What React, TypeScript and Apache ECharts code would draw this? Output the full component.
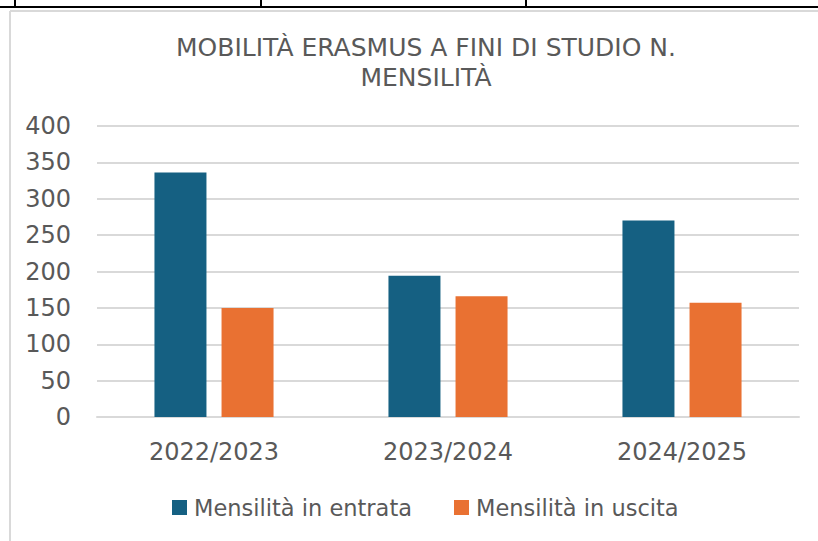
import React, { useEffect, useRef } from "react";
import * as echarts from "echarts";

const categories = ["2022/2023", "2023/2024", "2024/2025"];
const seriesNames = ["Mensilità in entrata", "Mensilità in uscita"];
const entrata = [336, 194, 270];
const uscita = [150, 166, 157];
const titleText = "MOBILITÀ ERASMUS A FINI DI STUDIO N.\nMENSILITÀ";

const TEXT = "#595959";
const GRID = "#d9d9d9";
const FONT = "DejaVu Sans";

export default function App() {
  const ref = useRef<HTMLDivElement>(null);
  useEffect(() => {
    if (!ref.current) return;
    const chart = echarts.init(ref.current, undefined, { renderer: "svg" });
    chart.setOption({
      animation: false,
      backgroundColor: "#ffffff",
      textStyle: { fontFamily: FONT, color: TEXT },
      title: {
        text: titleText,
        left: 421,
        top: 27,
        textAlign: "center",
        textStyle: {
          fontFamily: FONT,
          fontSize: 25,
          fontWeight: "normal",
          color: TEXT,
          lineHeight: 30,
        },
      },
      legend: {
        data: seriesNames,
        left: 167,
        top: 491,
        itemWidth: 15,
        itemHeight: 15,
        itemGap: 42,
        icon: "rect",
        textStyle: { fontFamily: FONT, fontSize: 22.5, color: TEXT, padding: [0, 0, 0, 2] },
      },
      grid: { left: 97, right: 19, top: 126, height: 291, containLabel: false },
      xAxis: {
        type: "category",
        data: categories,
        axisLine: { show: true, lineStyle: { color: GRID, width: 2 } },
        axisTick: { show: false },
        axisLabel: { fontFamily: FONT, fontSize: 24, color: TEXT, margin: 23 },
      },
      yAxis: {
        type: "value",
        min: 0,
        max: 400,
        interval: 50,
        axisLine: { show: false },
        axisTick: { show: false },
        splitLine: { lineStyle: { color: GRID, width: 2 } },
        axisLabel: { fontFamily: FONT, fontSize: 24, color: TEXT, margin: 26 },
      },
      series: [
        {
          name: seriesNames[0],
          type: "bar",
          data: entrata,
          barWidth: 52,
          barGap: "29%",
          itemStyle: { color: "#156082" },
        },
        {
          name: seriesNames[1],
          type: "bar",
          data: uscita,
          barWidth: 52,
          itemStyle: { color: "#E97132" },
        },
      ],
      graphic: [
        { type: "line", shape: { x1: 0, y1: 7, x2: 818, y2: 7 }, style: { stroke: "#000", lineWidth: 2 } },
        { type: "line", shape: { x1: 15, y1: 0, x2: 15, y2: 7 }, style: { stroke: "#000", lineWidth: 2 } },
        { type: "line", shape: { x1: 261, y1: 0, x2: 261, y2: 7 }, style: { stroke: "#000", lineWidth: 2 } },
        { type: "line", shape: { x1: 526, y1: 0, x2: 526, y2: 7 }, style: { stroke: "#000", lineWidth: 2 } },
        { type: "line", shape: { x1: 10, y1: 11, x2: 818, y2: 11 }, style: { stroke: GRID, lineWidth: 2 } },
        { type: "line", shape: { x1: 10, y1: 11, x2: 10, y2: 541 }, style: { stroke: GRID, lineWidth: 2 } },
      ],
    });
    return () => chart.dispose();
  }, []);
  return (
    <div
      ref={ref}
      style={{ position: "fixed", left: 0, top: 0, width: 818, height: 541 }}
    />
  );
}
